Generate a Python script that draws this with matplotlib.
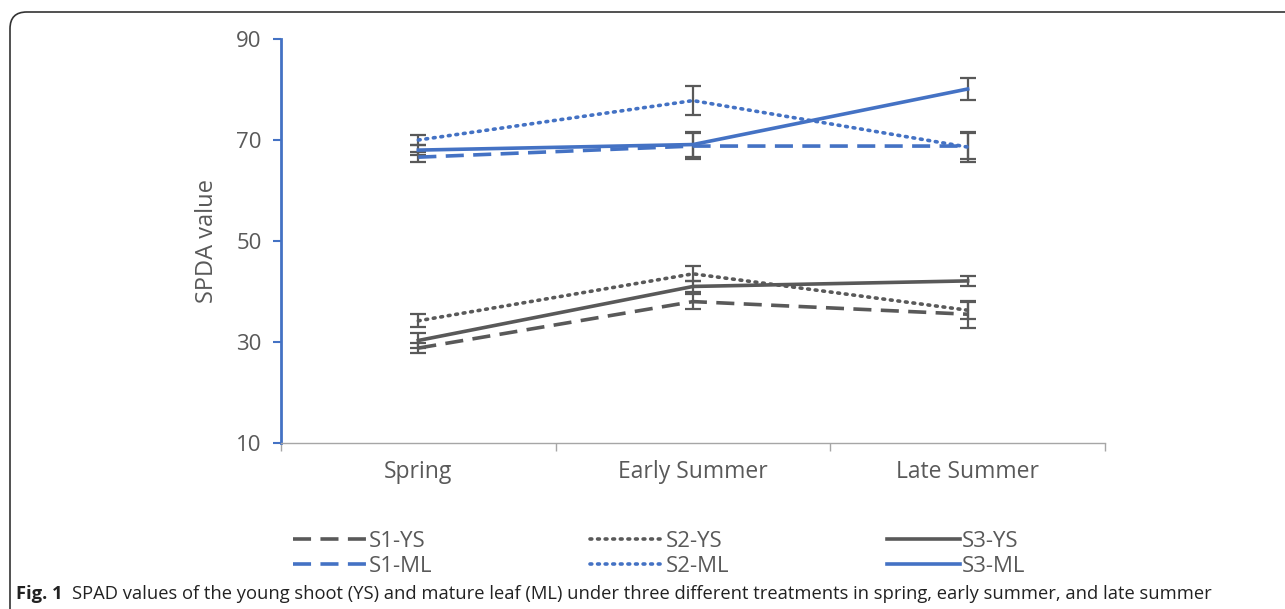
import matplotlib
matplotlib.use("Agg")
import matplotlib.pyplot as plt
from matplotlib.patches import FancyBboxPatch

categories = ["Spring", "Early Summer", "Late Summer"]
series_names = ["S1-YS", "S2-YS", "S3-YS", "S1-ML", "S2-ML", "S3-ML"]
s1_ys = [28.8, 38.0, 35.5]
s2_ys = [34.2, 43.5, 36.3]
s3_ys = [30.3, 41.0, 42.1]
s1_ml = [66.6, 68.8, 68.8]
s2_ml = [70.0, 77.8, 68.6]
s3_ml = [68.0, 69.1, 80.1]
s1_ys_err = [1.0, 1.5, 2.7]
s2_ys_err = [1.3, 1.5, 1.7]
s3_ys_err = [1.5, 1.1, 1.0]
s1_ml_err = [1.0, 2.6, 2.5]
s2_ml_err = [1.0, 2.9, 3.0]
s3_ml_err = [1.0, 2.4, 2.2]
yticks = [10, 30, 50, 70, 90]

BLUE = "#4472C4"
GRAY = "#595959"
TXT = "#595959"
FONT = ["Open Sans", "DejaVu Sans"]
plt.rcParams["font.family"] = FONT

fig = plt.figure(figsize=(12.85, 6.09), dpi=100)
ax = fig.add_axes([281/1285, 1-443/609, (1105-281)/1285, (443-39)/609])

x = list(range(len(categories)))
styles = {
    "dash": dict(linestyle=(0, (5, 2.6))),
    "dot": dict(linestyle=(0, (0.5, 1.6)), dash_capstyle="round"),
    "solid": dict(linestyle="-"),
}
data = [
    (s1_ys, s1_ys_err, GRAY, "dash", "S1-YS"),
    (s2_ys, s2_ys_err, GRAY, "dot", "S2-YS"),
    (s3_ys, s3_ys_err, GRAY, "solid", "S3-YS"),
    (s1_ml, s1_ml_err, BLUE, "dash", "S1-ML"),
    (s2_ml, s2_ml_err, BLUE, "dot", "S2-ML"),
    (s3_ml, s3_ml_err, BLUE, "solid", "S3-ML"),
]
handles = {}
for vals, errs, col, st, name in data:
    ax.errorbar(x, vals, yerr=errs, fmt="none", ecolor=GRAY, elinewidth=1.6,
                capsize=6, capthick=1.6, zorder=2)
    ln, = ax.plot(x, vals, color=col, lw=2.6, zorder=3, **styles[st])
    handles[name] = ln

ax.set_xlim(-0.5, 2.5)
ax.set_ylim(10, 90)
ax.set_yticks(yticks)
ax.set_yticklabels([str(v) for v in yticks], fontsize=16, color=TXT)
ax.set_xticks(x)
ax.set_xticklabels(categories, fontsize=16.5, color=TXT)
ax.set_xticks([-0.5, 0.5, 1.5, 2.5], minor=True)
ax.tick_params(axis="x", which="major", length=0, pad=12)
ax.tick_params(axis="x", which="minor", length=6, color="#A6A6A6", width=1)
ax.tick_params(axis="y", which="major", length=6, color=BLUE, width=1.5, pad=8)
for s in ["top", "right"]:
    ax.spines[s].set_visible(False)
ax.spines["left"].set_color(BLUE)
ax.spines["left"].set_linewidth(2)
ax.spines["bottom"].set_color("#A6A6A6")
ax.spines["bottom"].set_linewidth(1)
ax.set_ylabel("SPDA value", fontsize=17, color=TXT, labelpad=12)

# legend
order = ["S1-YS", "S1-ML", "S2-YS", "S2-ML", "S3-YS", "S3-ML"]
leg = fig.legend([handles[n] for n in order], order, loc="upper left",
                 bbox_to_anchor=(293/1285, 1-531/609), ncol=3, frameon=False,
                 fontsize=16, handlelength=3.3, handletextpad=0.1,
                 columnspacing=7.1, labelspacing=0.18, borderpad=0,
                 borderaxespad=0)
for t in leg.get_texts():
    t.set_color(TXT)

# caption
fig.text(16/1285, 1-594/609, "Fig. 1", fontsize=13.2, fontweight="bold",
         color="#222222", va="center", ha="left")
fig.text(72/1285, 1-594/609,
         "SPAD values of the young shoot (YS) and mature leaf (ML) under three different treatments in spring, early summer, and late summer",
         fontsize=13.2, color="#222222", va="center", ha="left")

# rounded border
box = FancyBboxPatch((10/1285, -0.2), 1.2, 1-12/609+0.2,
                     boxstyle="round,pad=0,rounding_size=0.013",
                     transform=fig.transFigure, fill=False,
                     edgecolor="#333333", lw=1.2, mutation_aspect=1285/609)
fig.patches.append(box)

fig.savefig("out.png", dpi=100)
